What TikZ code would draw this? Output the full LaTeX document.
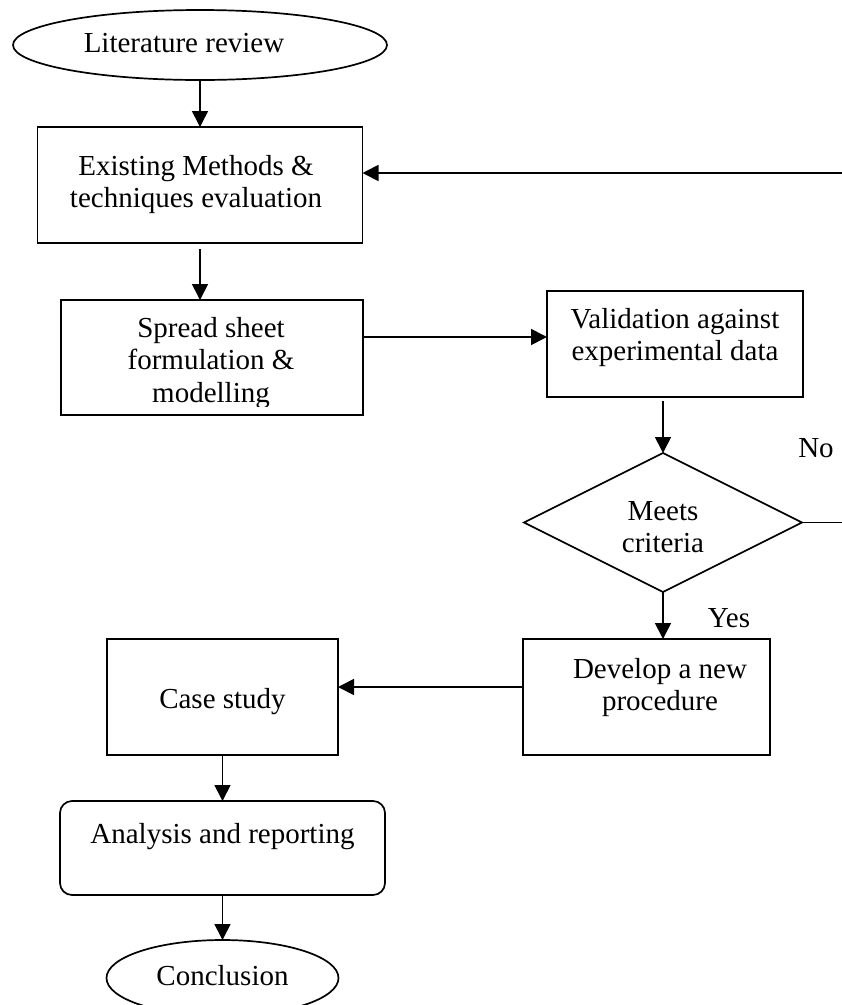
\documentclass[tikz,border=0pt]{standalone}
\usepackage{fontspec}
\setmainfont{Liberation Serif}
\usetikzlibrary{shapes.geometric,arrows.meta}

\begin{document}
\begin{tikzpicture}[x=1pt,y=-1pt,
  line width=1.7pt,
  every node/.style={inner sep=0pt, outer sep=0pt},
  frame/.style={draw, rectangle},
  oval/.style={draw, ellipse},
  decision/.style={draw, diamond},
  rbox/.style={draw, rectangle, rounded corners=12pt},
  txt/.style={align=center, font=\fontsize{29}{32.5}\selectfont},
  flow/.style={-{Triangle[length=16pt,width=16pt]}},
]
\useasboundingbox (0,0) rectangle (842,1005);
\clip (0,0) rectangle (842,1005);

% shapes
\node[oval, minimum width=374pt, minimum height=70pt] (lit) at (200,45) {};
\node[frame, minimum width=325pt, minimum height=116pt] (exist) at (200,185) {};
\node[frame, minimum width=302pt, minimum height=115pt] (sheet) at (212,357.5) {};
\node[frame, minimum width=256pt, minimum height=106pt] (valid) at (675,344) {};
\node[decision, minimum width=278pt, minimum height=139pt] (crit) at (663,522.5) {};
\node[frame, minimum width=247pt, minimum height=116pt] (dev) at (646.5,697) {};
\node[frame, minimum width=231pt, minimum height=116pt] (case) at (222.5,697) {};
\node[rbox, minimum width=325pt, minimum height=94pt] (anal) at (222.5,848) {};
\node[oval, minimum width=232pt, minimum height=76pt] (concl) at (222.5,978) {};

% texts
\node[txt] (lit-t) at (184,43.3) {Literature review};
\node[txt] (exist-t) at (196,184.6) {Existing Methods \&\\techniques evaluation};
\begin{scope}
  \clip (sheet.north west) rectangle ([yshift=9pt]sheet.south east);
  \node[txt] (sheet-t) at (211,362.9) {Spread sheet\\formulation \&\\modelling};
\end{scope}
\node[txt] (valid-t) at (675,337.6) {Validation against\\experimental data};
\node[txt] (crit-t) at (663,526.9) {Meets\\criteria};
\node[txt] (dev-t) at (660,687.6) {Develop a new\\procedure};
\node[txt] (case-t) at (222.5,701.4) {Case study};
\node[txt] (anal-t) at (222.5,836.4) {Analysis and reporting};
\node[txt] (concl-t) at (222.5,975.3) {Conclusion};
\node[txt] (no) at (816,448.5) {No};
\node[txt] (yes) at (729,618.5) {Yes};

% connector end points
\coordinate (exIn) at ([yshift=12pt]exist.east);
\coordinate (shOut) at ([yshift=20.5pt]sheet.east);
\coordinate (dvOut) at ([yshift=10pt]dev.west);
\coordinate (back) at (860,0);

% connectors
\draw[flow] (lit.south) -- (lit.south |- exist.north);
\draw[flow, shorten <=6pt] (exist.south) -- (exist.south |- sheet.north);
\draw[flow] (shOut) -- (shOut -| valid.west);
\draw[flow, shorten <=4pt] (valid.south -| crit.north) -- (crit.north);
\draw[flow] (crit.south) -- (crit.south |- dev.north);
\draw[flow] (dvOut) -- (dvOut -| case.east);
\draw[flow] (case.south) -- (anal.north);
\draw[flow] (anal.south) -- (concl.north);
\draw[flow] (crit.east) -- (crit.east -| back) -- (exIn -| back) -- (exIn);
\end{tikzpicture}
\end{document}
